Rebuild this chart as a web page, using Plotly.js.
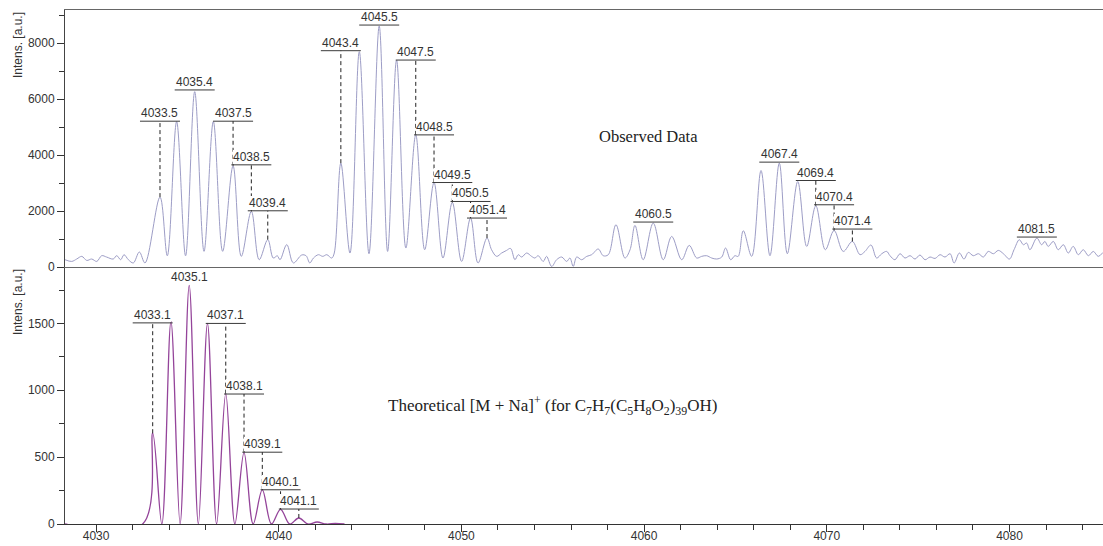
<!DOCTYPE html>
<html>
<head>
<meta charset="utf-8">
<script src="https://cdn.plot.ly/plotly-3.0.1.min.js"></script>
<style>
  html, body { margin: 0; padding: 0; background: #ffffff; }
  #chart { width: 1103px; height: 546px; }
</style>
</head>
<body>
<div id="chart"></div>
<script>
// Observed spectrum: m/z and intensity at peak tops, troughs and noise turning points
const observedMz = [
  4028.30, 4028.67, 4028.94, 4029.22, 4029.49, 4029.76, 4030.04, 4030.31, 4030.58, 4030.94,
  4031.13, 4031.35, 4031.53, 4031.77, 4032.04, 4032.37, 4032.68,
  4033.50, 4033.90, 4034.41, 4034.90, 4035.40, 4035.91, 4036.42, 4036.93, 4037.50, 4037.95,
  4038.50, 4038.93, 4039.40, 4039.70, 4039.92, 4040.07, 4040.44, 4040.80, 4041.26, 4041.50,
  4041.70, 4041.90, 4042.17, 4042.41, 4042.63, 4042.90, 4043.04,
  4043.40, 4043.90, 4044.41, 4044.94, 4045.50, 4045.96, 4046.45, 4046.96, 4047.50, 4047.99,
  4048.50, 4048.99, 4049.50, 4050.01, 4050.50, 4050.91, 4051.40, 4051.65, 4051.93, 4052.20,
  4052.47, 4052.69, 4052.93, 4053.11, 4053.30, 4053.57, 4053.84, 4054.02, 4054.20, 4054.48,
  4054.66, 4054.94, 4055.21, 4055.49, 4055.76, 4055.94, 4056.12, 4056.31, 4056.58, 4056.86,
  4057.13, 4057.49, 4057.76, 4058.04, 4058.46, 4058.95, 4059.23, 4059.50, 4059.95, 4060.50,
  4061.05, 4061.51, 4062.06, 4062.47, 4062.88, 4063.15, 4063.42, 4063.70, 4063.97, 4064.25,
  4064.46, 4064.74, 4064.97, 4065.15, 4065.43, 4065.89, 4066.40, 4066.89, 4067.40, 4067.84,
  4068.41, 4068.90, 4069.40, 4069.92, 4070.40, 4070.90, 4071.40, 4071.82, 4072.09, 4072.42,
  4072.73, 4073.01, 4073.28, 4073.46, 4073.73, 4074.01, 4074.28, 4074.56, 4074.83, 4075.10,
  4075.38, 4075.65, 4075.93, 4076.20, 4076.47, 4076.75, 4076.97, 4077.26, 4077.51, 4077.75,
  4078.02, 4078.30, 4078.57, 4078.84, 4079.12, 4079.39, 4079.67, 4080.00, 4080.25, 4080.54,
  4080.76, 4080.94, 4081.12, 4081.50, 4081.76, 4081.94, 4082.12, 4082.40, 4082.67, 4082.95,
  4083.22, 4083.49, 4083.77, 4084.04, 4084.32, 4084.59, 4084.86, 4085.12
];
const observedIntensity = [
  260, 200, 285, 380, 235, 285, 200, 405, 355, 285,
  405, 260, 440, 260, 145, 535, 145,
  2500, 400, 5200, 400, 6270, 560, 5200, 560, 3620, 380,
  1990, 260, 980, 320, 400, 260, 800, 145, 430, 400,
  145, 320, 440, 380, 440, 320, 500,
  3714, 500, 7700, 475, 8617, 557, 7400, 678, 4724, 618,
  3021, 321, 2307, 200, 1750, 143, 1035, 618, 380, 500,
  593, 664, 260, 440, 357, 500, 380, 321, 404, 200,
  380, 20, 260, 357, 200, 321, 20, 357, 260, 380,
  440, 643, 404, 440, 1510, 321, 618, 1486, 260, 1570,
  260, 1094, 260, 772, 321, 380, 404, 321, 285, 357,
  678, 260, 404, 380, 1296, 380, 3450, 404, 3714, 475,
  3057, 736, 2189, 618, 1307, 557, 914, 440, 557, 786,
  321, 475, 557, 404, 260, 475, 321, 404, 285, 428,
  260, 357, 307, 440, 357, 475, 143, 500, 285, 521,
  404, 475, 357, 557, 475, 593, 475, 285, 618, 975,
  796, 857, 618, 1035, 796, 914, 736, 914, 618, 796,
  500, 736, 440, 618, 404, 557, 380, 521
];

// Theoretical isotope pattern of [M + Na]+
const theoreticalMz = [
  4028.30, 4032.55, 4033.10, 4033.60, 4034.10, 4034.60, 4035.10, 4035.60, 4036.10, 4036.60,
  4037.10, 4037.60, 4038.10, 4038.60, 4039.10, 4039.60, 4040.10, 4040.60, 4041.10, 4041.60,
  4042.10, 4042.60, 4043.10, 4043.60
];
const theoreticalIntensity = [
  0, 0, 679, 0, 1515, 0, 1785, 0, 1500, 0,
  975, 0, 534, 0, 255, 0, 110, 0, 45, 0,
  15, 0, 4, 0
];

// Peak labels (m/z) and the intensity level each label sits on
const observedPeakLabels = [
  '4033.5', '4035.4', '4037.5', '4038.5', '4039.4',
  '4043.4', '4045.5', '4047.5', '4048.5', '4049.5', '4050.5', '4051.4',
  '4060.5', '4067.4', '4069.4', '4070.4', '4071.4', '4081.5'
];
const observedLabelLevels = [
  5214, 6331, 5214, 3653, 2010,
  7735, 8652, 7400, 4724, 3021, 2343, 1750,
  1607, 3750, 3093, 2225, 1357, 1071
];
const theoreticalPeakLabels = ['4033.1', '4035.1', '4037.1', '4038.1', '4039.1', '4040.1', '4041.1'];
const theoreticalLabelLevels = [1504, 1790, 1500, 972, 537, 256, 112];
const theoreticalPlainLabels = ['4035.1'];

// Axis ranges
const mzRange = [4028.3, 4085.12];
const observedRange = [0, 9190];
const theoreticalRange = [0, 1922];

const sans = 'Liberation Sans, Arial, sans-serif';
const serif = 'Liberation Serif, Times New Roman, serif';
const W = 1103, H = 546;
const margin = {l: 65, r: 0, t: 10, b: 22};
const plotW = W - margin.l - margin.r;
const panelH = (H - margin.t - margin.b) / 2;
const pxPerMz = plotW / (mzRange[1] - mzRange[0]);
const underlineHalf = 20 / pxPerMz;

const shapes = [];
const annotations = [];

function addLabels(labels, levels, mzArr, intArr, xref, yref, yRange, plain) {
  const pxPerY = panelH / (yRange[1] - yRange[0]);
  labels.forEach((lab, i) => {
    const mz = parseFloat(lab);
    const idx = mzArr.findIndex(v => Math.abs(v - mz) < 1e-6);
    const top = intArr[idx];
    const level = levels[i];
    const isPlain = plain.indexOf(lab) >= 0;
    if (!isPlain) {
      shapes.push({type: 'line', xref: xref, yref: yref,
        x0: mz - underlineHalf, x1: mz + underlineHalf, y0: level, y1: level,
        line: {color: '#3a3a3a', width: 1}});
      if ((level - top) * pxPerY > 3) {
        shapes.push({type: 'line', xref: xref, yref: yref,
          x0: mz, x1: mz, y0: top, y1: level,
          line: {color: '#222222', width: 1, dash: '4px,3px'}});
      }
    }
    annotations.push({xref: xref, yref: yref, x: mz, y: level, text: lab,
      showarrow: false, xanchor: 'center', yanchor: 'bottom', yshift: 1,
      bgcolor: '#ffffff', borderpad: 0, borderwidth: 0,
      font: {family: sans, size: 12, color: '#333333'}});
  });
}

addLabels(observedPeakLabels, observedLabelLevels, observedMz, observedIntensity, 'x2', 'y', observedRange, []);
addLabels(theoreticalPeakLabels, theoreticalLabelLevels, theoreticalMz, theoreticalIntensity, 'x', 'y2', theoreticalRange, theoreticalPlainLabels);

// Axis titles, placed at the top of each panel
const titleX = (18 - margin.l) / plotW;
annotations.push({xref: 'paper', yref: 'paper', x: titleX, y: 1, xanchor: 'center', yanchor: 'top',
  text: 'Intens. [a.u.]', textangle: -90, showarrow: false,
  font: {family: sans, size: 12, color: '#333333'}});
annotations.push({xref: 'paper', yref: 'paper', x: titleX, y: 0.5, xanchor: 'center', yanchor: 'top',
  text: 'Intens. [a.u.]', textangle: -90, showarrow: false,
  font: {family: sans, size: 12, color: '#333333'}});

// Panel captions
annotations.push({xref: 'paper', yref: 'paper', x: 0.5626, y: 0.753, xanchor: 'center', yanchor: 'middle',
  text: 'Observed Data', showarrow: false,
  font: {family: serif, size: 16.5, color: '#222222'}});
annotations.push({xref: 'paper', yref: 'paper', x: 0.4692, y: 0.2315, xanchor: 'center', yanchor: 'middle',
  text: 'Theoretical [M + Na]<sup>+</sup> (for C<sub>7</sub>H<sub>7</sub>(C<sub>5</sub>H<sub>8</sub>O<sub>2</sub>)<sub>39</sub>OH)',
  showarrow: false, font: {family: serif, size: 17, color: '#222222'}});

const traces = [
  {x: observedMz, y: observedIntensity, xaxis: 'x2', yaxis: 'y', type: 'scatter', mode: 'lines',
   line: {color: '#9d9dc6', width: 1, shape: 'spline'}, hoverinfo: 'skip'},
  {x: theoreticalMz, y: theoreticalIntensity, xaxis: 'x', yaxis: 'y2', type: 'scatter', mode: 'lines',
   line: {color: '#94449a', width: 1.3, shape: 'spline'}, hoverinfo: 'skip'}
];

const tickFont = {family: sans, size: 12, color: '#333333'};

const layout = {
  width: W, height: H, margin: margin,
  paper_bgcolor: '#ffffff', plot_bgcolor: '#ffffff',
  showlegend: false,
  xaxis: {domain: [0, 1], anchor: 'y2', range: mzRange, tick0: 4030, dtick: 10,
    ticks: 'outside', ticklen: 7, tickwidth: 1, tickcolor: '#333333', ticklabelstandoff: -6,
    showline: true, linecolor: '#333333', linewidth: 1, showgrid: false, zeroline: false,
    tickfont: tickFont,
    minor: {dtick: 2, tick0: 4030, ticks: 'outside', ticklen: 5, tickcolor: '#333333', showgrid: false}},
  xaxis2: {domain: [0, 1], anchor: 'y', matches: 'x', range: mzRange, showticklabels: false, ticks: '',
    showline: true, mirror: true, linecolor: '#666666', linewidth: 1, showgrid: false, zeroline: false},
  yaxis: {domain: [0.5, 1], anchor: 'x2', range: observedRange, tick0: 0, dtick: 2000,
    ticks: 'outside', ticklen: 7, tickwidth: 1, tickcolor: '#333333',
    showline: true, linecolor: '#444444', linewidth: 1, showgrid: false, zeroline: false,
    tickfont: tickFont,
    minor: {dtick: 1000, ticks: 'outside', ticklen: 5, tickcolor: '#333333', showgrid: false}},
  yaxis2: {domain: [0, 0.5], anchor: 'x', range: theoreticalRange, tick0: 0, dtick: 500,
    ticks: 'outside', ticklen: 7, tickwidth: 1, tickcolor: '#333333',
    showline: true, linecolor: '#444444', linewidth: 1, showgrid: false, zeroline: false,
    tickfont: tickFont,
    minor: {dtick: 250, ticks: 'outside', ticklen: 5, tickcolor: '#333333', showgrid: false}},
  shapes: shapes,
  annotations: annotations
};

Plotly.newPlot('chart', traces, layout, {displayModeBar: false, staticPlot: true});
</script>
</body>
</html>
